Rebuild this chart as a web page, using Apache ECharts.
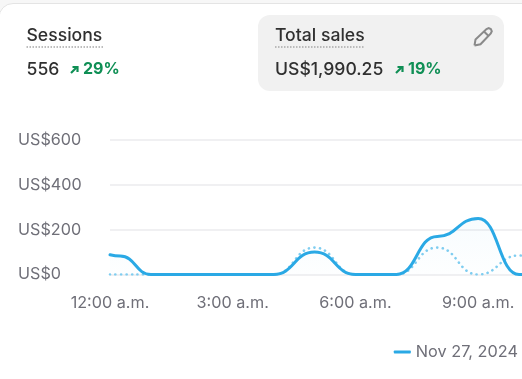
<!DOCTYPE html>
<html><head><meta charset="utf-8">
<style>html,body{margin:0;padding:0;background:#fff;overflow:hidden}#c{width:522px;height:379px}</style>
<script src="https://cdn.jsdelivr.net/npm/echarts@6/dist/echarts.min.js"></script>
</head><body><div id="c"></div>
<script>
var hourPositions = [0,0.25,1,2,3,4,5,6,7,8,9,10,11];
var currentSales = [88,82,0,0,0,0,100,0,0,170,250,0,0];
var previousSales = [0,0,0,0,0,0,120,0,0,120,0,85,90];
var tickLabels = {0:'12:00 a.m.',3:'3:00 a.m.',6:'6:00 a.m.',9:'9:00 a.m.'};
var yTicks = [0,200,400,600];
var legendLabel = 'Nov 27, 2024';
var FONT = 'Inter';
var BLUE = '#2aa9e5', DOT = '#7fcdf0', DARK = '#303030', GREY = '#6f6f78', GREEN = '#0f8f55';
function pairs(vals){return vals.map(function(v,i){return [hourPositions[i],v];});}
function txt(x,y,t,size,weight,color){return {type:'text',x:x,y:y,silent:true,style:{text:t,font:weight+' '+size+'px '+FONT,fill:color,textVerticalAlign:'middle',textBaseline:'middle'}};}
function dotted(x1,x2,y){return {type:'line',silent:true,shape:{x1:x1,y1:y,x2:x2,y2:y},style:{stroke:'#a8a8a8',lineWidth:1.5,lineDash:[1.5,1.5]}};}
function pl(pts,color,w){return {type:'polyline',silent:true,shape:{points:pts},style:{stroke:color,fill:null,lineWidth:w}};}
function arrow(dx){return [pl([[71+dx,73],[77+dx,67]],GREEN,2.2),pl([[72.5+dx,67],[77.5+dx,67],[77.5+dx,72]],GREEN,2.2)];}
var chart = echarts.init(document.getElementById('c'),null,{renderer:'canvas'});
chart.setOption({
  animation:false,
  backgroundColor:'#f7f7f7',
  textStyle:{fontFamily:FONT},
  grid:{left:110,width:450,top:140,height:134.5,outerBoundsMode:'none',containLabel:false},
  legend:{show:true,data:[legendLabel],right:4,top:344,padding:0,itemWidth:17,itemHeight:3,itemGap:10,icon:'roundRect',textStyle:{color:GREY,fontSize:16.3,fontFamily:FONT}},
  xAxis:{type:'value',min:0,max:11,interval:3,axisLine:{show:false},axisTick:{show:false},splitLine:{show:false},
    axisLabel:{color:GREY,fontSize:16.2,fontFamily:FONT,margin:21,formatter:function(v){return tickLabels[v]||'';}}},
  yAxis:{type:'value',min:yTicks[0],max:yTicks[3],interval:200,axisLine:{show:false},axisTick:{show:false},
    splitLine:{lineStyle:{color:'#f0f0f2',width:2}},
    axisLabel:{color:GREY,fontSize:16.2,fontFamily:FONT,align:'left',margin:92,formatter:function(v){return 'US$'+v;}}},
  series:[
    {name:'Previous',type:'line',data:pairs(previousSales),smooth:0.5,smoothMonotone:'x',showSymbol:false,silent:true,
      lineStyle:{color:DOT,width:2.6,type:[0.1,5.4],cap:'round'},itemStyle:{color:DOT}},
    {name:legendLabel,type:'line',data:pairs(currentSales),smooth:0.5,smoothMonotone:'x',showSymbol:false,silent:true,
      lineStyle:{color:BLUE,width:3,cap:'round'},itemStyle:{color:BLUE},
      areaStyle:{color:{type:'linear',x:0,y:0,x2:0,y2:1,colorStops:[{offset:0,color:'rgba(42,169,229,0.05)'},{offset:1,color:'rgba(42,169,229,0.01)'}]}}}
  ],
  graphic:[
    {type:'rect',silent:true,z:-10,shape:{x:-1,y:3.5,width:560,height:420,r:14},style:{fill:'#fff',stroke:'#e4e4e4',lineWidth:1}},
    {type:'rect',silent:true,z:-5,shape:{x:258,y:15,width:246,height:76,r:12},style:{fill:'#f1f1f1'}},
    txt(26.5,35.5,'Sessions',17.6,500,DARK),
    dotted(26.5,103,47),
    txt(26.5,69.5,'556',17.6,500,DARK)
  ].concat(arrow(0),[
    txt(83,69.5,'29%',16,700,GREEN),
    txt(275,35.5,'Total sales',17.6,500,DARK),
    dotted(275,365,47),
    txt(275,69.5,'US$1,990.25',17.6,500,DARK)
  ],arrow(325),[
    txt(408,69.5,'19%',16,700,GREEN),
    pl([[474.5,45.5],[475.5,39.5],[486.5,29],[488.7,28],[490.8,29],[491.8,31.2],[490.8,33.5],[480.5,44.3],[474.5,45.5]],'#8a8a8a',2),
    pl([[484,31.5],[488.6,36]],'#8a8a8a',2)
  ])
});
</script></body></html>
